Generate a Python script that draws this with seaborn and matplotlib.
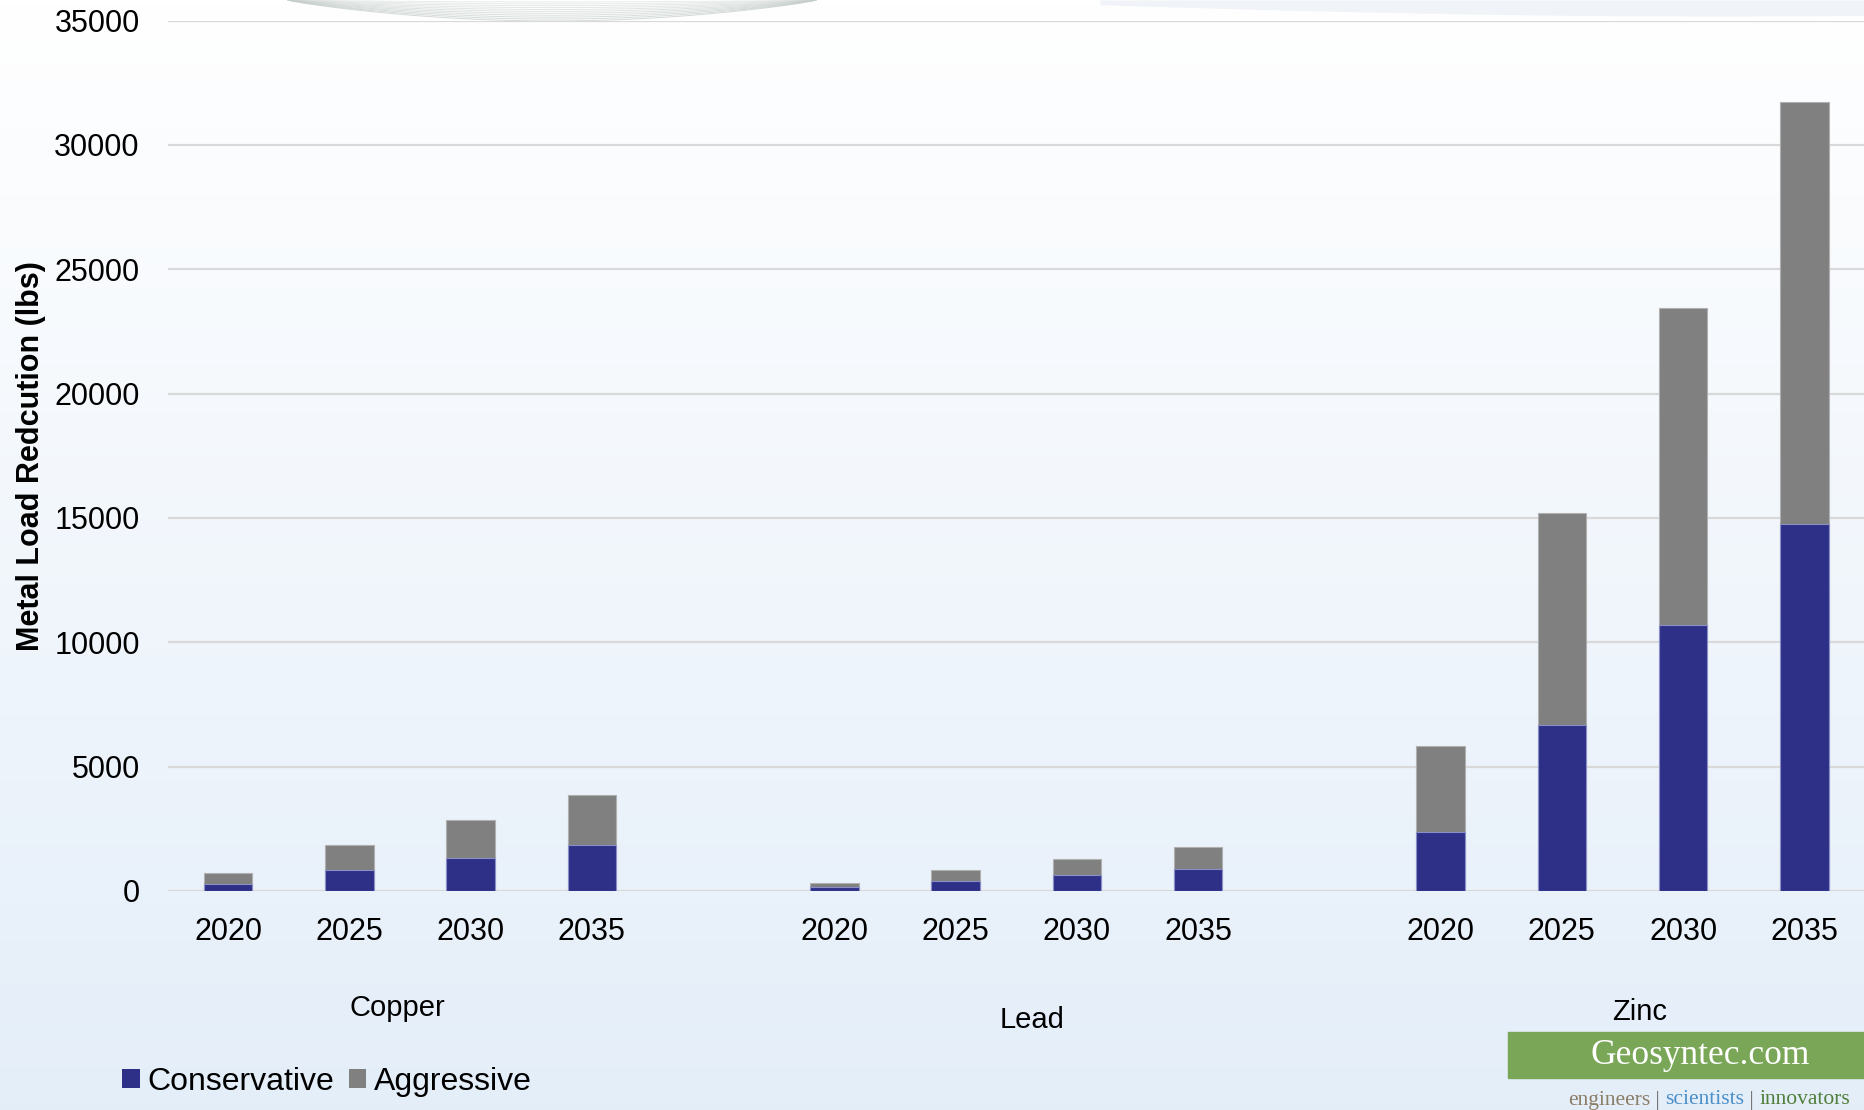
import numpy as np
import pandas as pd
import matplotlib
matplotlib.use("Agg")
import matplotlib.pyplot as plt
import seaborn as sns
from matplotlib.patches import Patch

# ---------------- data ----------------
metals = ["Copper", "Lead", "Zinc"]
years = ["2020", "2025", "2030", "2035"]
conservative_copper = [290, 840, 1340, 1860]
conservative_lead = [150, 400, 640, 880]
conservative_zinc = [2380, 6660, 10700, 14750]
aggressive_copper = [420, 1010, 1510, 2000]
aggressive_lead = [185, 457, 660, 872]
aggressive_zinc = [3435, 8520, 12740, 16970]
y_ticks = [0, 5000, 10000, 15000, 20000, 25000, 30000, 35000]
series_names = ["Conservative", "Aggressive"]
y_label = "Metal Load Redcution (lbs)"

cons = {"Copper": conservative_copper, "Lead": conservative_lead, "Zinc": conservative_zinc}
aggr = {"Copper": aggressive_copper, "Lead": aggressive_lead, "Zinc": aggressive_zinc}

rows = []
for m in metals:
    for i, yr in enumerate(years):
        rows.append({"cat": f"{m} {yr}", "metal": m, "year": yr,
                     "Conservative": cons[m][i],
                     "Total": cons[m][i] + aggr[m][i]})
df = pd.DataFrame(rows)

# category order with blank separator slots between metals
order = []
tick_labels = []
for k, m in enumerate(metals):
    for yr in years:
        order.append(f"{m} {yr}")
        tick_labels.append(yr)
    if k < len(metals) - 1:
        order.append(" " * (k + 1))
        tick_labels.append("")

# ---------------- style ----------------
sns.set_style("white")
plt.rcParams["font.family"] = ["Liberation Sans", "DejaVu Sans"]
plt.rcParams["text.color"] = "black"
plt.rcParams["axes.labelcolor"] = "black"
plt.rcParams["xtick.color"] = "black"
plt.rcParams["ytick.color"] = "black"

W, H = 1865, 1110
fig = plt.figure(figsize=(W / 100, H / 100), dpi=100)

# background gradient
bg = fig.add_axes([0, 0, 1, 1], zorder=-10)
top = np.array([1.0, 1.0, 1.0])
bot = np.array([0.894, 0.933, 0.976])
t = np.linspace(0, 1, 256)[:, None]
grad = top * (1 - t[..., None]) + bot * t[..., None]
grad = np.repeat(grad, 4, axis=1)
bg.imshow(grad, aspect="auto", extent=[0, W, H, 0])
# decorative swooshes at the top
xs = np.linspace(288, 816, 300)
s = np.sin(np.pi * (xs - 288) / (816 - 288))
for j in range(1, 12):
    frac = j / 11
    bg.plot(xs, 21 * s ** 0.8 * frac, color="#c5ceca", lw=0.7, alpha=0.35 + 0.4 * frac)
xs2 = np.linspace(1100, 1865, 200)
lower2 = 16 * np.sin(np.pi * (xs2 - 1100) / (2 * (1865 - 1100)) + 0.3)
bg.fill_between(xs2, 0, lower2, color="#f0f3f7", lw=0)
bg.set_xlim(0, W)
bg.set_ylim(H, 0)
bg.axis("off")

# main axes
ax_left = 167.5 / W
ax_bottom = 1 - 891 / H
ax_top = 1 - 20.5 / H
ax = fig.add_axes([ax_left, ax_bottom, 1 - ax_left, ax_top - ax_bottom])
ax.set_facecolor("none")

blue = "#2e3087"
gray = "#808080"

sns.barplot(data=df, x="cat", y="Total", order=order, color=gray, width=0.4,
            saturation=1, edgecolor="#b0b0b0", linewidth=0.8, ax=ax, zorder=3)
sns.barplot(data=df, x="cat", y="Conservative", order=order, color=blue, width=0.4,
            saturation=1, edgecolor="#8a8fc8", linewidth=0.8, ax=ax, zorder=4)

ax.set_xlim(-0.5, len(order) - 0.5)
ax.set_ylim(0, 35000)
ax.set_yticks(y_ticks)
ax.set_yticklabels([str(v) for v in y_ticks], fontsize=22)
ax.set_xticks(range(len(order)))
ax.set_xticklabels(tick_labels, fontsize=22)
ax.tick_params(axis="y", length=0, pad=20)
ax.tick_params(axis="x", length=0, pad=19)
ax.grid(axis="y", color="#d9d9d9", lw=1.6, zorder=0)
ax.set_axisbelow(True)
for sp in ax.spines.values():
    sp.set_visible(False)
ax.set_xlabel("")
ax.set_ylabel(y_label, fontsize=22, fontweight="bold")
ax.yaxis.set_label_coords((46 - 167.5) / (W - 167.5), 0.5)

# group labels (metal names)
group_pos = {"Copper": (397, 1008), "Lead": (1032, 1020), "Zinc": (1640, 1012)}
for m in metals:
    px, py = group_pos[m]
    fig.text(px / W, 1 - py / H, m, fontsize=21, ha="center", va="center")

# legend
handles = [Patch(facecolor=blue, edgecolor="none"), Patch(facecolor=gray, edgecolor="none")]
leg = fig.legend(handles, series_names, loc="center left",
                 bbox_to_anchor=(122 / W, 1 - 1082 / H), ncol=2, frameon=False,
                 fontsize=23, handlelength=0.55, handleheight=0.55,
                 handletextpad=0.25, columnspacing=0.45, borderaxespad=0, borderpad=0)

# Geosyntec logo
fig.patches.append(plt.Rectangle((1508 / W, 1 - 1078 / H), (W - 1508) / W, 46 / H,
                                 transform=fig.transFigure, color="#7aa757", zorder=5))
fig.text(1700 / W, 1 - 1055 / H, "Geosyntec.com", fontsize=25.5, color="white",
         ha="center", va="center", family=["Liberation Serif", "DejaVu Serif"], zorder=6)
tag_y = 1 - 1100 / H
fig.canvas.draw()
r = fig.canvas.get_renderer()
x = 1568
parts = [("engineers", "#8c7d66"), (" | ", "#777777"), ("scientists", "#4a8fc9"),
         (" | ", "#777777"), ("innovators", "#4f7f3a")]
for txt, col in parts:
    tt = fig.text(x / W, tag_y, txt, fontsize=15.5, color=col, ha="left", va="center",
                  family=["Liberation Serif", "DejaVu Serif"])
    bb = tt.get_window_extent(renderer=r)
    x += bb.width

fig.savefig("out.png", dpi=100)
